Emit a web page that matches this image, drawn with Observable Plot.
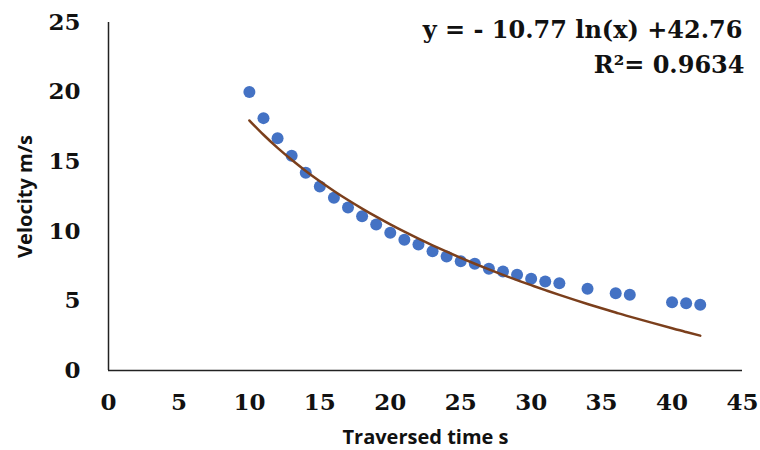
<!DOCTYPE html>
<html>
<head>
<meta charset="utf-8">
<script src="https://cdn.jsdelivr.net/npm/d3@7"></script>
<script src="https://cdn.jsdelivr.net/npm/@observablehq/plot@0.6"></script>
<style>
  html, body { margin: 0; padding: 0; background: #fff; }
  #chart { width: 760px; height: 450px; }
</style>
</head>
<body>
<div id="chart"></div>
<script>
const time = [10, 11, 12, 13, 14, 15, 16, 17, 18, 19, 20, 21, 22, 23, 24, 25, 26, 27, 28, 29, 30, 31, 32, 34, 36, 37, 40, 41, 42];
const velocity = [20.0, 18.13, 16.69, 15.42, 14.2, 13.22, 12.41, 11.71, 11.08, 10.49, 9.89, 9.39, 9.05, 8.57, 8.19, 7.85, 7.67, 7.31, 7.11, 6.88, 6.59, 6.39, 6.27, 5.87, 5.55, 5.44, 4.91, 4.83, 4.72];
const xTicks = [0, 5, 10, 15, 20, 25, 30, 35, 40, 45];
const yTicks = [0, 5, 10, 15, 20, 25];
const fitSlope = -10.77;
const fitIntercept = 42.76;
const rSquared = 0.9634;
const equationLines = ["y = - 10.77 ln(x) +42.76", "R\u00B2= 0.9634"];

const points = time.map((t, i) => ({t, v: velocity[i]}));
const fit = time.map(t => ({t, v: fitSlope * Math.log(t) + fitIntercept}));

const serif = "'DejaVu Serif', 'Liberation Serif', serif";
const sans = "'Open Sans', 'Liberation Sans', sans-serif";

const chart = Plot.plot({
  width: 760,
  height: 450,
  marginLeft: 108,
  marginRight: 18,
  marginTop: 22,
  marginBottom: 80,
  x: {domain: [0, 45]},
  y: {domain: [0, 25]},
  style: {background: "#fff"},
  marks: [
    Plot.axisY({ticks: yTicks, tickSize: 0, tickPadding: 28, label: null,
      fontSize: 23, fontWeight: "bold", fontFamily: serif, fill: "#111"}),
    Plot.axisX({ticks: xTicks, tickSize: 0, tickPadding: 23, label: null,
      fontSize: 23, fontWeight: "bold", fontFamily: serif, fill: "#111"}),
    Plot.ruleX([0], {stroke: "#222", strokeWidth: 1.5}),
    Plot.ruleY([0], {stroke: "#222", strokeWidth: 1.5}),
    Plot.dot(points, {x: "t", y: "v", r: 6, fill: "#4472C4", stroke: "none"}),
    Plot.line(fit, {x: "t", y: "v", stroke: "#7B3F1C", strokeWidth: 2.5, curve: "natural"}),
    Plot.text([equationLines[0]], {text: d => d, frameAnchor: "top-right", dx: 0, dy: -2,
      fontSize: 24, fontWeight: "bold", fontFamily: serif, fill: "#111", textAnchor: "end"}),
    Plot.text([equationLines[1]], {text: d => d, frameAnchor: "top-right", dx: 2, dy: 33,
      fontSize: 24, fontWeight: "bold", fontFamily: serif, fill: "#111", textAnchor: "end"}),
    Plot.text(["Traversed time s"], {text: d => d, frameAnchor: "bottom", dy: 73,
      fontSize: 20, fontWeight: "bold", fontFamily: sans, fill: "#111"}),
    Plot.text(["Velocity m/s"], {text: d => d, frameAnchor: "left", dx: -83, rotate: -90,
      textAnchor: "middle",
      fontSize: 20, fontWeight: "bold", fontFamily: sans, fill: "#111"})
  ]
});
document.getElementById("chart").appendChild(chart);
</script>
</body>
</html>
